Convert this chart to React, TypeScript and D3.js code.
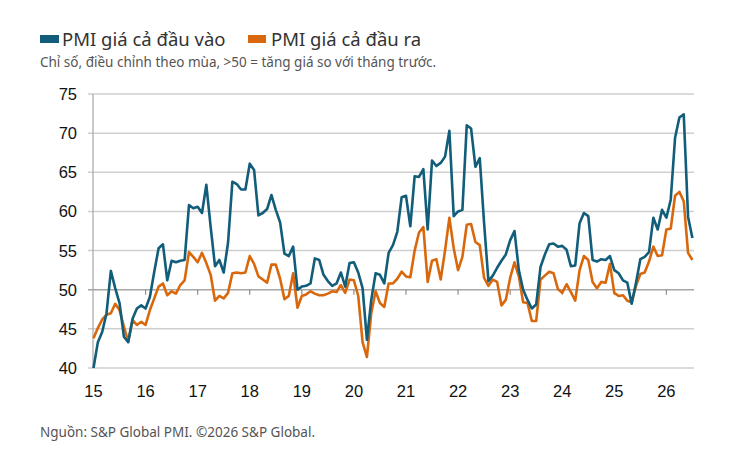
import React from "react";
import * as d3 from "d3";

const years = ["15", "16", "17", "18", "19", "20", "21", "22", "23", "24", "25", "26"];
const yTicks = [40, 45, 50, 55, 60, 65, 70, 75];

// Monthly, Jan 2015 .. Jul 2026
const inputPrices = [
  40.0, 43.3, 44.6, 47.0, 52.4, 50.2, 48.3, 44.0, 43.3, 46.3, 47.6, 48.0,
  47.6, 49.1, 52.3, 55.3, 55.8, 51.2, 53.7, 53.5, 53.7, 53.8, 60.8, 60.4,
  60.6, 59.8, 63.4, 58.0, 53.0, 53.8, 52.2, 56.0, 63.8, 63.5, 62.8, 62.8,
  66.1, 65.3, 59.5, 59.8, 60.3, 62.1, 60.2, 58.6, 54.6, 54.3, 55.5, 50.0,
  50.4, 50.5, 50.8, 54.0, 53.8, 51.9, 51.1, 50.5, 50.8, 52.2, 50.4, 53.4,
  53.5, 52.2, 50.2, 43.6, 48.7, 52.1, 51.9, 50.8, 54.7, 55.7, 57.4, 61.8,
  62.0, 58.1, 64.5, 64.4, 65.4, 57.7, 66.5, 65.8, 66.2, 67.0, 70.3, 59.4,
  60.0, 60.2, 71.0, 70.6, 65.7, 66.8, 58.5, 51.1, 51.8, 52.8, 53.7, 54.5,
  56.3, 57.5, 52.5, 50.0, 48.7, 47.6, 48.1, 52.9, 54.5, 55.8, 55.9, 55.5,
  55.6, 55.1, 53.0, 53.1, 58.5, 59.8, 59.4, 53.8, 53.6, 53.9, 53.8, 54.3,
  52.5, 52.1, 51.2, 50.9, 48.2, 50.9, 53.9, 54.2, 54.8, 59.2, 57.7, 60.2,
  59.2, 61.5, 69.4, 72.0, 72.4, 59.3, 56.6,
];

const outputPrices = [
  43.8, 45.1, 46.2, 46.8, 47.0, 48.2, 47.4, 45.3, 43.4, 46.1, 45.5, 45.9,
  45.5, 47.4, 48.9, 50.4, 50.8, 49.3, 49.8, 49.5, 50.6, 51.2, 54.8, 54.2,
  53.5, 54.7, 53.4, 51.9, 48.6, 49.2, 48.9, 49.6, 52.1, 52.2, 52.1, 52.2,
  54.3, 53.3, 51.7, 51.3, 50.9, 53.2, 53.2, 51.4, 48.8, 49.2, 52.1, 47.7,
  49.2, 49.4, 49.8, 49.5, 49.3, 49.3, 49.5, 49.8, 49.7, 50.6, 49.6, 51.3,
  51.2, 49.2, 43.3, 41.4, 47.0, 49.8, 48.3, 47.8, 50.8, 50.8, 51.4, 52.3,
  51.7, 51.6, 55.0, 57.3, 58.0, 51.0, 53.7, 53.9, 51.3, 55.0, 59.2, 55.3,
  52.5, 54.2, 58.3, 58.4, 56.1, 55.7, 51.5, 50.5, 51.3, 51.0, 48.0, 48.7,
  51.5, 53.5, 51.7, 48.4, 48.3, 46.0, 46.0, 51.3, 51.8, 52.3, 52.1, 50.1,
  49.6, 50.7, 49.7, 48.6, 52.5, 54.3, 53.8, 51.0, 50.2, 51.0, 50.9, 53.3,
  49.6, 49.2, 49.3, 48.6, 48.4, 50.5, 52.0, 52.2, 53.6, 55.5, 54.3, 54.4,
  57.7, 57.8, 62.0, 62.5, 61.3, 54.7, 53.8,
];

const legendLabels = ["PMI giá cả đầu vào", "PMI giá cả đầu ra"];
const subtitle = "Chỉ số, điều chỉnh theo mùa, >50 = tăng giá so với tháng trước.";
const source = "Nguồn: S&P Global PMI. ©2026 S&P Global.";

const BLUE = "#115d7a";
const ORANGE = "#d9680d";

export default function App() {
  const left = 93.5;
  const monthW = 4.34;
  const x = d3.scaleLinear().domain([0, 1]).range([left, left + monthW]);
  const y = d3.scaleLinear().domain([40, 75]).range([368, 94]);
  const plotRight = 694;

  const line = d3
    .line<number>()
    .x((_, i) => x(i))
    .y((d) => y(d));

  const sans = "'Noto Sans', 'Open Sans', sans-serif";
  const axisFont = "'Liberation Sans', Arial, sans-serif";

  return (
    <svg
      width={750}
      height={450}
      style={{ position: "absolute", left: 0, top: 0, background: "#fff" }}
    >
      {/* legend */}
      <rect x={40} y={35} width={19} height={8} fill={BLUE} />
      <text x={62} y={46} fontFamily={sans} fontSize={18.5} fill="#333">
        {legendLabels[0]}
      </text>
      <rect x={248} y={35} width={18} height={8} fill={ORANGE} />
      <text x={271} y={46} fontFamily={sans} fontSize={18.5} fill="#333">
        {legendLabels[1]}
      </text>
      <text x={40} y={67} fontFamily={sans} fontSize={13.5} fill="#555">
        {subtitle}
      </text>

      {/* grid */}
      {yTicks.map((t) => (
        <g key={t}>
          <line
            x1={88}
            x2={plotRight}
            y1={y(t)}
            y2={y(t)}
            stroke={t === 50 ? "#a6a6a6" : "#cfcfcf"}
            strokeWidth={1.5}
          />
          <text
            x={77}
            y={y(t)}
            dy="0.36em"
            textAnchor="end"
            fontFamily={axisFont}
            fontSize={16.5}
            fill="#111"
          >
            {t}
          </text>
        </g>
      ))}
      <line x1={93} x2={93} y1={94} y2={368} stroke="#a6a6a6" strokeWidth={1.2} />

      {/* year ticks on the 50 line */}
      {years.map((yr, k) => (
        <g key={yr}>
          {k > 0 && (
            <line
              x1={x(k * 12)}
              x2={x(k * 12)}
              y1={y(50)}
              y2={y(50) + 5}
              stroke="#8c8c8c"
              strokeWidth={1.2}
            />
          )}
          <text
            x={x(k * 12)}
            y={397}
            textAnchor="middle"
            fontFamily={axisFont}
            fontSize={16.5}
            fill="#111"
          >
            {yr}
          </text>
        </g>
      ))}

      {/* series */}
      <path
        d={line(outputPrices) || ""}
        fill="none"
        stroke={ORANGE}
        strokeWidth={2.6}
        strokeLinejoin="round"
      />
      <path
        d={line(inputPrices) || ""}
        fill="none"
        stroke={BLUE}
        strokeWidth={2.6}
        strokeLinejoin="round"
      />

      <text x={40} y={437} fontFamily={sans} fontSize={13.5} fill="#555">
        {source}
      </text>
    </svg>
  );
}
